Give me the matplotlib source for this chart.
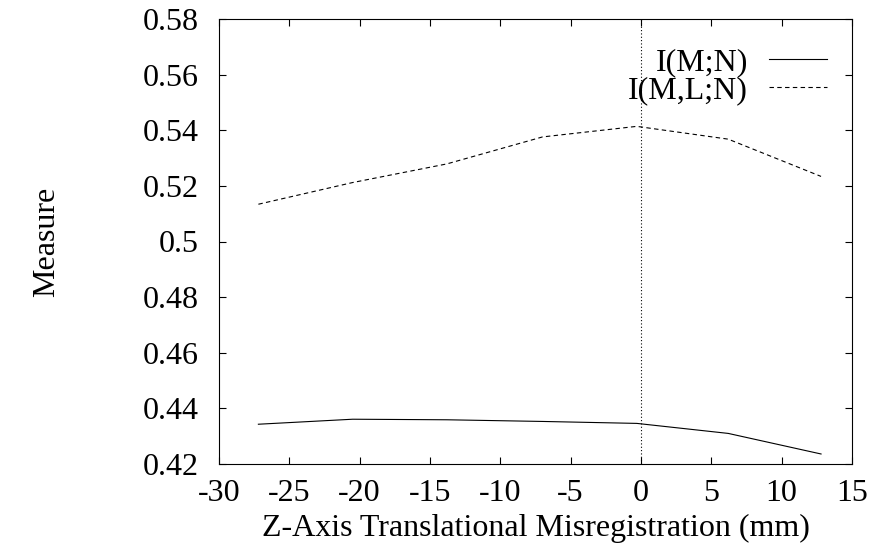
import matplotlib
matplotlib.use("Agg")
import matplotlib.pyplot as plt

# offsets along z (mm) and the two measures
offsets = [-27.2, -20.5, -13.8, -7.0, -0.3, 6.2, 12.8]
mi_mn = [0.4343, 0.4361, 0.4359, 0.4353, 0.4346, 0.4310, 0.4236]
mi_mln = [0.5134, 0.5212, 0.5279, 0.5376, 0.5414, 0.5368, 0.5234]

x_ticks = [-30, -25, -20, -15, -10, -5, 0, 5, 10, 15]
y_ticks = [0.42, 0.44, 0.46, 0.48, 0.5, 0.52, 0.54, 0.56, 0.58]
y_tick_labels = ["0.42", "0.44", "0.46", "0.48", "0.5", "0.52", "0.54", "0.56", "0.58"]

plt.rcParams["font.family"] = ["Liberation Serif", "DejaVu Serif"]
plt.rcParams["font.size"] = 23
plt.rcParams["axes.unicode_minus"] = False

fig = plt.figure(figsize=(8.7, 5.44), dpi=100)
ax = fig.add_axes([219 / 870, 80 / 544, 633 / 870, 445 / 544])

ax.plot(offsets, mi_mn, color="black", lw=0.8, label="I(M;N)")
ax.plot(offsets, mi_mln, color="black", lw=0.8, dashes=(4, 3), label="I(M,L;N)")
ax.axvline(0, color="black", lw=0.8, linestyle=(0, (1, 2)))

ax.set_xlim(-30, 15)
ax.set_ylim(0.42, 0.58)
ax.set_xticks(x_ticks)
ax.set_yticks(y_ticks)
ax.set_yticklabels(y_tick_labels)
ax.tick_params(direction="in", length=5, width=0.8, top=True, right=True)
ax.tick_params(axis="x", pad=11)
ax.tick_params(axis="y", pad=14.5)
for s in ax.spines.values():
    s.set_linewidth(0.8)

ax.set_xlabel("Z-Axis Translational Misregistration (mm)", va="baseline")
ax.xaxis.set_label_coords(0.5, (464 - 536) / 445)
ax.set_ylabel("Measure", va="center")
ax.yaxis.set_label_coords((47 - 219) / 633, 0.5)

ax.legend(loc="upper right", bbox_to_anchor=(0.9605, 0.935), frameon=False,
          markerfirst=False, handlelength=1.8, handletextpad=0.68,
          labelspacing=-0.05, borderaxespad=0, borderpad=0)

fig.savefig("out.png", dpi=100)
